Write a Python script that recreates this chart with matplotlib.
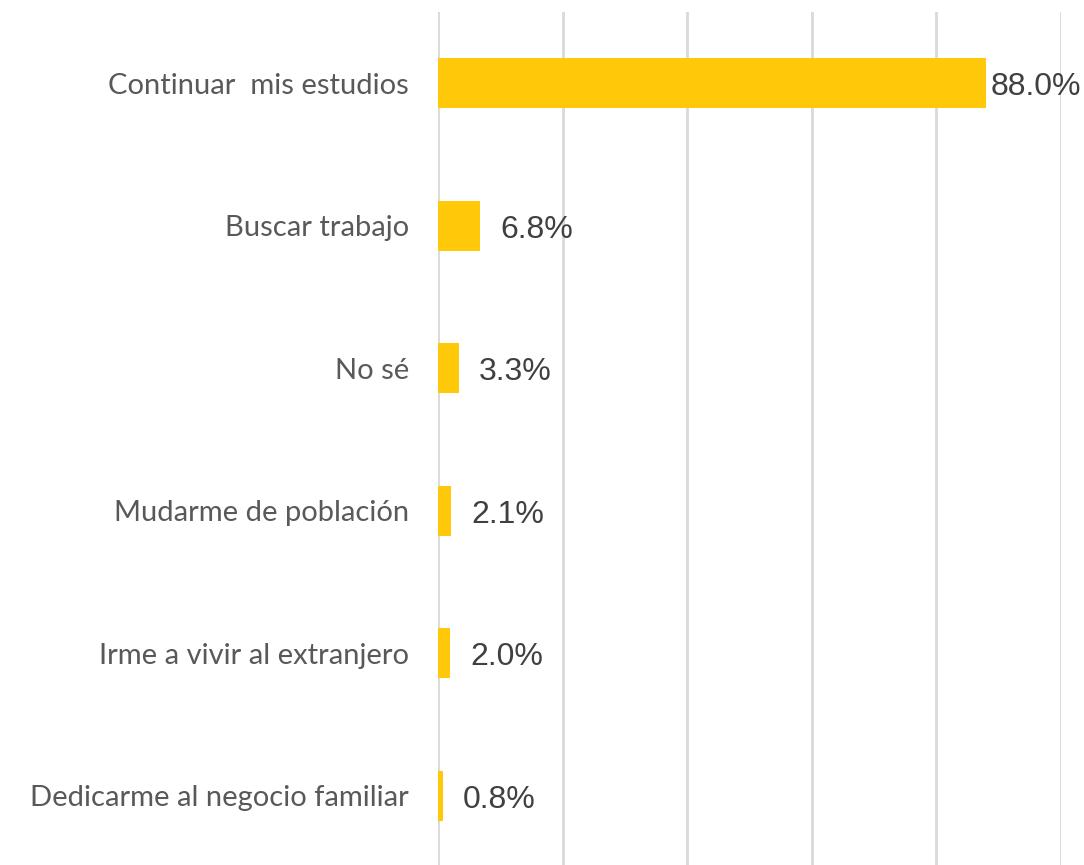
import matplotlib
matplotlib.use("Agg")
import matplotlib.pyplot as plt
from matplotlib.transforms import offset_copy

categories = [
    "Continuar  mis estudios",
    "Buscar trabajo",
    "No sé",
    "Mudarme de población",
    "Irme a vivir al extranjero",
    "Dedicarme al negocio familiar",
]
values = [88.0, 6.8, 3.3, 2.1, 2.0, 0.8]
value_labels = ["88.0%", "6.8%", "3.3%", "2.1%", "2.0%", "0.8%"]
label_offsets_px = [4, 20, 20, 20, 20, 20]

W, H = 1084, 865
fig = plt.figure(figsize=(W / 100, H / 100), dpi=100)
ax_left, ax_right = 438, 1061
ax_top, ax_bottom = 12, 865
ax = fig.add_axes([ax_left / W, 1 - ax_bottom / H, (ax_right - ax_left) / W, (ax_bottom - ax_top) / H])

pos = list(range(len(categories)))
ax.barh(pos, values, height=0.35, color="#FFC90A", zorder=3)
ax.set_xlim(0, 100)
ax.set_ylim(5.486, -0.5)
ax.set_xticks([0, 20, 40, 60, 80, 100])
ax.xaxis.grid(True, color="#D9D9D9", linewidth=2, zorder=0)
ax.tick_params(axis="x", length=0, labelbottom=False)
ax.set_yticks(pos)
ax.set_yticklabels(categories, family=["Lato", "DejaVu Sans"], fontsize=21, color="#595959")
ax.tick_params(axis="y", length=0, pad=21)
for s in ax.spines.values():
    s.set_visible(False)

for p, v, lab, off in zip(pos, values, value_labels, label_offsets_px):
    tr = offset_copy(ax.transData, fig=fig, x=off * 72 / 100, y=-4 * 72 / 100, units="points")
    ax.text(v, p, lab, transform=tr, ha="left", va="center",
            family="Liberation Sans", fontsize=23, color="#404040")

fig.savefig("out.png", dpi=100)
